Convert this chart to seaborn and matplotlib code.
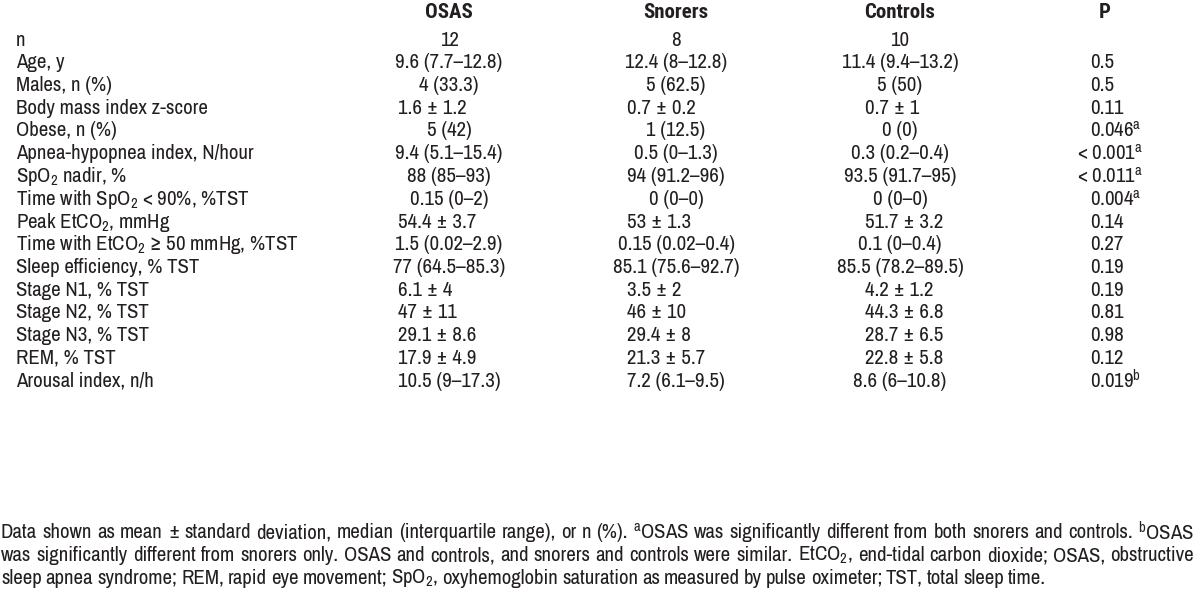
import matplotlib
matplotlib.use("Agg")
import matplotlib.pyplot as plt
import seaborn as sns
from matplotlib import font_manager

# ---------------- data ----------------
columns = ["OSAS", "Snorers", "Controls", "P"]
row_labels = [
    "n",
    "Age, y",
    "Males, n (%)",
    "Body mass index z-score",
    "Obese, n (%)",
    "Apnea-hypopnea index, N/hour",
    "SpO$_2$ nadir, %",
    "Time with SpO$_2$ < 90%, %TST",
    "Peak EtCO$_2$, mmHg",
    "Time with EtCO$_2$ \u2265 50 mmHg, %TST",
    "Sleep efficiency, % TST",
    "Stage N1, % TST",
    "Stage N2, % TST",
    "Stage N3, % TST",
    "REM, % TST",
    "Arousal index, n/h",
]
osas = ["12", "9.6 (7.7\u201312.8)", "4 (33.3)", "1.6 \u00b1 1.2", "5 (42)",
        "9.4 (5.1\u201315.4)", "88 (85\u201393)", "0.15 (0\u20132)", "54.4 \u00b1 3.7",
        "1.5 (0.02\u20132.9)", "77 (64.5\u201385.3)", "6.1 \u00b1 4", "47 \u00b1 11",
        "29.1 \u00b1 8.6", "17.9 \u00b1 4.9", "10.5 (9\u201317.3)"]
snorers = ["8", "12.4 (8\u201312.8)", "5 (62.5)", "0.7 \u00b1 0.2", "1 (12.5)",
           "0.5 (0\u20131.3)", "94 (91.2\u201396)", "0 (0\u20130)", "53 \u00b1 1.3",
           "0.15 (0.02\u20130.4)", "85.1 (75.6\u201392.7)", "3.5 \u00b1 2", "46 \u00b1 10",
           "29.4 \u00b1 8", "21.3 \u00b1 5.7", "7.2 (6.1\u20139.5)"]
controls = ["10", "11.4 (9.4\u201313.2)", "5 (50)", "0.7 \u00b1 1", "0 (0)",
            "0.3 (0.2\u20130.4)", "93.5 (91.7\u201395)", "0 (0\u20130)", "51.7 \u00b1 3.2",
            "0.1 (0\u20130.4)", "85.5 (78.2\u201389.5)", "4.2 \u00b1 1.2", "44.3 \u00b1 6.8",
            "28.7 \u00b1 6.5", "22.8 \u00b1 5.8", "8.6 (6\u201310.8)"]
p_values = ["", "0.5", "0.5", "0.11", "0.046", "< 0.001", "< 0.011", "0.004",
            "0.14", "0.27", "0.19", "0.19", "0.81", "0.98", "0.12", "0.019"]
p_marks = ["", "", "", "", "a", "a", "a", "a", "", "", "", "", "", "", "", "b"]
footnote_lines = [
    "Data shown as mean \u00b1 standard deviation, median (interquartile range), or n (%). "
    "$^{\\mathrm{a}}$OSAS was significantly different from both snorers and controls. $^{\\mathrm{b}}$OSAS",
    "was significantly different from snorers only. OSAS and controls, and snorers and controls were similar. "
    "EtCO$_2$, end-tidal carbon dioxide; OSAS, obstructive",
    "sleep apnea syndrome; REM, rapid eye movement; SpO$_2$, oxyhemoglobin saturation as measured by pulse "
    "oximeter; TST, total sleep time.",
]

# ---------------- style ----------------
sns.set_theme(style="white")
names = {f.name for f in font_manager.fontManager.ttflist}
fam = next((f for f in ["Archivo Narrow", "Roboto Condensed", "PT Sans Narrow", "Liberation Sans"]
            if f in names), "DejaVu Sans")
bold_fam = next((f for f in ["Roboto Condensed", "Archivo Narrow", "Liberation Sans"]
                 if f in names), fam)
plt.rcParams["font.family"] = [fam, "DejaVu Sans"]
plt.rcParams["mathtext.fontset"] = "custom"
plt.rcParams["mathtext.rm"] = fam
plt.rcParams["mathtext.it"] = fam
plt.rcParams["mathtext.bf"] = fam

INK = "#231f20"
FS = 15.0

fig = plt.figure(figsize=(12, 5.97), dpi=100)
ax = fig.add_axes([0, 0, 1, 1])
ax.set_xlim(0, 1200)
ax.set_ylim(597, 0)
ax.axis("off")

col_center = [449, 676, 900, 1105]
col_left = [398, 627, 865, 1090]
header_y = 12
row_y0 = 40
row_step = 22.75

for c, name in enumerate(columns):
    ax.text(col_center[c], header_y, name, ha="center", va="center",
            fontsize=FS, fontweight="bold", family=[bold_fam, "DejaVu Sans"], color=INK)

for r, label in enumerate(row_labels):
    y = row_y0 + r * row_step
    ax.text(16, y, label, ha="left", va="center", fontsize=FS, color=INK)
    for c, vals in enumerate([osas, snorers, controls]):
        v = vals[r]
        if "\u00b1" in v:
            ax.text(col_left[c], y, v, ha="left", va="center", fontsize=FS, color=INK)
        else:
            ax.text(col_center[c], y, v, ha="center", va="center", fontsize=FS, color=INK)
    pv = p_values[r]
    if pv:
        x0 = col_left[3] - (13 if pv.startswith("<") else 0)
        t = pv + ("$^{\\mathrm{%s}}$" % p_marks[r] if p_marks[r] else "")
        ax.text(x0, y, t, ha="left", va="center", fontsize=FS, color=INK)

# footnote, justified like the reference
fig.canvas.draw()
renderer = fig.canvas.get_renderer()
inv = ax.transData.inverted()
left_x, right_x = 1, 1194
for i, line in enumerate(footnote_lines):
    y = 533 + i * 22.5
    words = line.split(" ")
    objs = [ax.text(0, y, w, ha="left", va="center", fontsize=FS, color=INK) for w in words]
    widths = []
    for o in objs:
        bb = o.get_window_extent(renderer)
        p0 = inv.transform((bb.x0, bb.y0))
        p1 = inv.transform((bb.x1, bb.y0))
        widths.append(p1[0] - p0[0])
    space = ax.text(0, y, "a a", fontsize=FS)
    bb1 = space.get_window_extent(renderer)
    space.remove()
    if i < len(footnote_lines) - 1:
        gap = (right_x - left_x - sum(widths)) / (len(words) - 1)
    else:
        gap = 4.0
    x = left_x
    for o, w in zip(objs, widths):
        o.set_x(x)
        x += w + gap

fig.savefig("out.png", dpi=100, facecolor="white")
